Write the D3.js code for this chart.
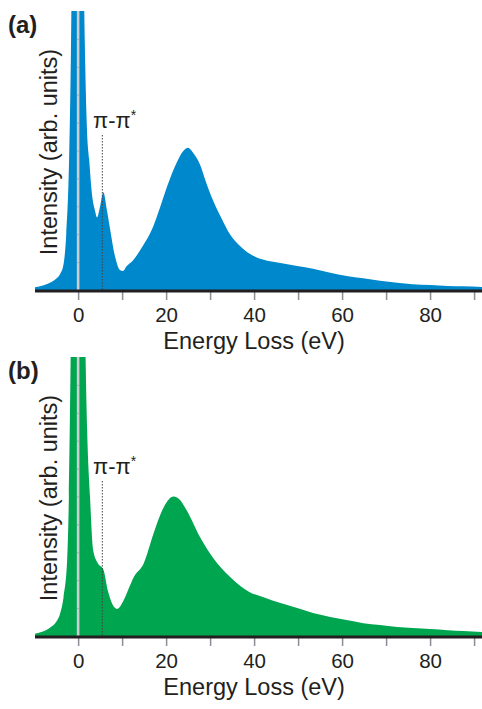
<!DOCTYPE html>
<html>
<head>
<meta charset="utf-8">
<script src="https://cdn.jsdelivr.net/npm/d3@7"></script>
<style>
  body { margin: 0; background: #fff; }
  svg text { font-family: "Liberation Sans", Arial, Helvetica, sans-serif; fill: #231f20; }
</style>
</head>
<body>
<div id="chart"></div>
<script>
// energy loss (eV) of the read points, panel (a)
var energyA = [-9.8, -8, -6.4, -5, -4, -3.4, -2.7, -2.05, -1.6, -1.2, -0.5, 0.3, 1.0, 1.4, 1.6, 2.0, 2.5, 3.1, 3.9, 4.3,
  5.0, 5.75, 6.5, 7.3, 8.4, 9.5, 10.2, 11, 12.5, 14.8, 17, 18.5, 20.2, 22.5, 24, 25, 26, 27.7, 29, 30.7,
  32.5, 34.5, 36.8, 39, 42, 46, 49.8, 53.4, 57.3, 61, 64.8, 68.6, 72.5, 76, 80, 84, 87.5, 91.8];
var intensityA = [0.01, 0.016, 0.026, 0.04, 0.06, 0.085, 0.2, 0.47, 0.9, 1.6, 3, 3, 1.6, 1.0, 0.82, 0.58, 0.47, 0.35, 0.28, 0.26,
  0.3, 0.35, 0.29, 0.215, 0.12, 0.072, 0.068, 0.085, 0.107, 0.16, 0.225, 0.29, 0.37, 0.46, 0.5, 0.51, 0.495, 0.45, 0.39, 0.32,
  0.26, 0.2, 0.158, 0.13, 0.109, 0.097, 0.086, 0.076, 0.062, 0.05, 0.042, 0.033, 0.026, 0.021, 0.018, 0.014, 0.013, 0.011];

// panel (b)
var energyB = [-9.8, -8, -6.4, -5, -4.1, -3.3, -2.5, -2.1, -1.7, -1.2, -0.5, 0.3, 1.0, 1.5, 1.75, 2.05, 2.7, 3.4, 4.5, 5.7,
  6.8, 8.4, 8.9, 10.3, 11.5, 12.6, 14.9, 17.2, 19.4, 21.7, 23, 24.7, 27.7, 30.7, 34.5, 36.8, 39, 42, 46, 49.8,
  53.4, 57.3, 61, 64.8, 68.6, 72.5, 76, 80, 84, 87.5, 91.8];
var intensityB = [0.008, 0.016, 0.03, 0.05, 0.08, 0.14, 0.27, 0.5, 1.0, 2, 3, 3, 2, 1.2, 0.95, 0.74, 0.5, 0.31, 0.26, 0.24,
  0.16, 0.1, 0.097, 0.126, 0.17, 0.21, 0.26, 0.37, 0.46, 0.5, 0.49, 0.45, 0.355, 0.28, 0.212, 0.18, 0.157, 0.14, 0.118, 0.1,
  0.082, 0.068, 0.057, 0.046, 0.039, 0.032, 0.029, 0.025, 0.021, 0.018, 0.014];

var xTicks = [0, 10, 20, 30, 40, 50, 60, 70, 80, 90];
var piPeak = 5.5;

var width = 482, height = 709;
var svg = d3.select("#chart").append("svg")
  .attr("width", width)
  .attr("height", height);

var x = d3.scaleLinear().domain([-9.8, 91.8]).range([35, 482]);
var y = d3.scaleLinear().domain([0, 1]).range([290, 11]);

function drawPanel(offsetY, energy, intensity, color, tag, id) {
  var data = energy.map(function(e, i) { return {e: e, v: intensity[i]}; });
  var g = svg.append("g").attr("transform", "translate(0," + offsetY + ")");

  g.append("clipPath").attr("id", id)
    .append("rect")
    .attr("x", x.range()[0]).attr("y", y(1))
    .attr("width", x.range()[1] - x.range()[0])
    .attr("height", y(0) - y(1));

  var area = d3.area()
    .x(function(d) { return x(d.e); })
    .y0(y(0))
    .y1(function(d) { return y(d.v); })
    .curve(d3.curveMonotoneX);

  g.append("path")
    .datum(data)
    .attr("clip-path", "url(#" + id + ")")
    .attr("fill", color)
    .attr("d", area);

  // zero line with its small y ticks
  g.append("line")
    .attr("x1", x(0)).attr("x2", x(0))
    .attr("y1", y(1)).attr("y2", y(0))
    .attr("stroke", "#cdcdd2").attr("stroke-width", 2.6);

  var yAxis = g.append("g")
    .attr("transform", "translate(" + (x(0) + 1) + ",0)")
    .call(d3.axisLeft(y).tickValues(d3.range(0.1, 1, 0.1)).tickSize(2).tickFormat(""));
  yAxis.select(".domain").remove();
  yAxis.selectAll(".tick line").attr("stroke", "#a9a9b0");

  // dotted marker at the pi-pi* peak
  g.append("line")
    .attr("x1", x(piPeak)).attr("x2", x(piPeak))
    .attr("y1", 135).attr("y2", y(0))
    .attr("stroke", "#444").attr("stroke-width", 1)
    .attr("stroke-dasharray", "1.5,1.5");

  var lab = g.append("text")
    .attr("x", 93).attr("y", 128)
    .style("font-size", "22px");
  lab.append("tspan").text("π-π");
  lab.append("tspan").attr("dy", -8).style("font-size", "14px").text("*");

  // x axis
  var xAxis = g.append("g")
    .attr("transform", "translate(0," + y(0) + ")")
    .call(d3.axisBottom(x).tickValues(xTicks).tickSize(10)
      .tickFormat(function(d) { return d % 20 === 0 ? d : ""; }));
  xAxis.select(".domain").remove();
  xAxis.selectAll(".tick line").attr("stroke", "#8d8d95").attr("stroke-width", 1.5);
  xAxis.selectAll(".tick text")
    .attr("y", 32).attr("dy", 0)
    .style("font-size", "20.5px")
    .style("font-family", "'Liberation Sans', Arial, sans-serif")
    .attr("fill", "#231f20");

  g.append("line")
    .attr("x1", 35).attr("x2", 482)
    .attr("y1", y(0) + 1).attr("y2", y(0) + 1)
    .attr("stroke", "#231f20").attr("stroke-width", 3);

  g.append("text")
    .attr("x", x(40)).attr("y", 349)
    .attr("text-anchor", "middle")
    .style("font-size", "23.5px")
    .text("Energy Loss (eV)");

  g.append("text")
    .attr("transform", "translate(57,152) rotate(-90)")
    .attr("text-anchor", "middle")
    .style("font-size", "23.5px")
    .text("Intensity (arb. units)");

  g.append("text")
    .attr("x", 8).attr("y", 33)
    .style("font-size", "24px")
    .style("font-weight", "bold")
    .text(tag);
}

drawPanel(0, energyA, intensityA, "#0088cc", "(a)", "clipA");
drawPanel(346, energyB, intensityB, "#00a54f", "(b)", "clipB");
</script>
</body>
</html>
